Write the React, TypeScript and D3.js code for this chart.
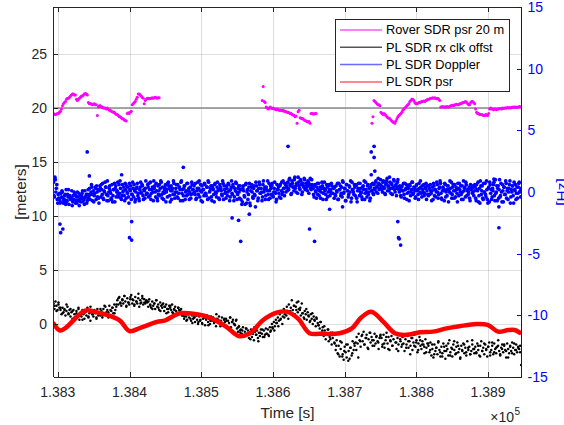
import React from 'react';
import * as d3 from 'd3';

// ---------- axes ----------
const AXIS_T_MIN = 138294;
const AXIS_T_MAX = 138946.5;
const LEFT_MIN = -4.9;
const LEFT_MAX = 29.35;
const RIGHT_MIN = -15;
const RIGHT_MAX = 15;
const X_TICKS = [138300, 138400, 138500, 138600, 138700, 138800, 138900];
const X_TICK_LABELS = ['1.383', '1.384', '1.385', '1.386', '1.387', '1.388', '1.389'];
const LEFT_TICKS = [0, 5, 10, 15, 20, 25];
const RIGHT_TICKS = [-15, -10, -5, 0, 5, 10, 15];
const LEGEND_LABELS = ['Rover SDR psr 20 m', 'PL SDR rx clk offst', 'PL SDR Doppler', 'PL SDR psr'];

// ---------- data ----------
const TIME_START = 138294;
const TIME_END = 138946;

// reference level (left axis, meters)
const REF_LEVEL = 20;

// Rover SDR psr 20 m (left axis) - three segments, sample step in seconds
const ROVER_STEP = 1.39;
const ROVER_SEG1_START = 138294;
const ROVER_SEG1 = [19.5,19.4,19.4,19.45,19.5,19.5,19.6, 19.7,19.9,20.2,20.4, 20.5,20.6,20.8,20.9,20.9,21.0,
  21.1,21.2,21.3,21.3,21.2,21.2, 20.8,20.7,20.8,20.9, 21.0,21.1,21.1,21.2,21.3,21.35,21.3, 21.2,20.5,20.4,
  20.4,20.4,20.3,20.35,20.4,20.3,20.3, 19.3, 20.1,20.2,20.2,20.1,20.1,20.0,20.0,20.0,19.9,20.0,
  19.9,19.8,19.8,19.7,19.65,19.6,19.6,19.5,19.4,19.4,19.3,19.2,19.2,19.1, 19.0,19.0,18.9,18.85,18.8,
  19.5,19.55,19.5,19.6,19.7, 20.3,20.4,20.5,20.6,20.8,21.0,21.3, 21.3,21.2,21.1,21.0,20.9,20.4,
  20.7,20.8,20.9,20.9,20.85,20.9,20.9,20.95,20.9,20.95,21.0,20.95,20.9,20.95,20.95];
const ROVER_SEG2_START = 138585;
const ROVER_SEG2 = [20.7,22.0,20.6,20.5,20.1,20.0,19.9,20.0,20.1,20.0,19.95,20.0,
  19.9,19.9,19.85,19.9,19.85,19.8,19.8,19.8,19.75,19.8, 19.7,19.7,19.65,19.6,19.6,19.55,19.5,19.5,
  19.4,19.35,19.3,19.2,19.25,18.6, 19.65,19.8,19.1,19.05,19.0,19.0, 18.9,18.85,18.8,18.75,18.7,18.75,18.6,
  19.5,19.5,19.45,19.45,19.5,19.5];
const ROVER_SEG3_START = 138738;
const ROVER_SEG3 = [18.6,19.2,20.7,20.6,20.5,20.4,20.3,20.3,20.2,19.6,19.5,19.4,19.5,19.4,
  19.3,19.2,19.1,19.05,19.0,18.9,18.8,18.7,18.65,18.6, 18.8,19.0,19.2,19.3,19.4, 19.5,19.6,19.8,19.9,20.0,
  20.1,20.2,20.3,20.4,20.6, 20.7,20.8,20.8,20.7,20.5, 20.4,20.4,20.45,20.5,20.5,
  20.55,20.6,20.6,20.65,20.6,20.7,20.75,20.8,20.8,20.85, 20.9,20.9,20.95,20.9,20.95,20.9,20.85,20.9,20.8,20.7,
  20.1,20.1,20.15,20.1,20.1,20.1,20.15,20.1,20.1,20.15, 20.2,20.2,20.25,20.2,20.3,20.3,20.35,20.3,20.3,20.4,
  20.4,20.45,20.5,20.5,20.55,20.6,20.5,20.4,20.3,20.3, 20.5,20.6,20.6,20.5,20.4,19.9,19.6,19.5,
  19.5,19.4,19.4,19.4,19.35,19.3,19.3,19.4,19.35,19.3,19.5,19.9, 20.0,19.9,19.9,19.85,19.9,19.9,19.85,19.9,19.9,19.95,
  19.95,19.9,20.0,19.95,20.0,20.0,20.0,20.05,20.0,20.05,20.0,20.05,20.1,20.05,20.1,20.1,20.05,20.1,20.1,20.15,20.1];

// PL SDR rx clk offst (left axis, meters) - evenly sampled over TIME_START..TIME_END (two receiver passes)
const CLK_OFFSET_A = [
  1.9,1.4,2.1,1.7,1.3,1.8,1.5,1.3,0.9,1.5,1.1,1.4,0.8,1.2,1.6,1.0,1.3,0.7,1.1,0.5,1.3,0.9,0.6,1.2,0.8,1.4,0.4,1.0,0.7,1.3,0.9,0.5,1.1,0.8,1.5,0.6,1.0,0.3,1.2,0.9,0.7,1.3,1.0,0.6,1.4,0.8,1.1,
  0.8,1.2,0.6,1.4,1.0,1.6,0.9,1.3,1.1,1.7,0.7,1.2,1.5,1.0,1.8,1.3,1.6,2.2,1.8,2.5,2.0,1.7,2.3,1.9,2.6,2.1,1.6,2.4,2.0,1.8,2.3,2.7,1.9,2.2,1.7,2.5,2.1,1.9,2.4,1.6,2.2,2.0,2.6,1.8,2.3,1.9,2.1,
  2.0,1.6,2.3,1.8,1.5,2.1,1.7,1.9,1.4,2.2,1.6,1.8,1.3,2.0,1.7,1.5,1.9,1.2,1.6,1.8,1.4,1.1,1.7,1.5,1.3,1.8,1.0,1.4,1.6,1.2,0.9,1.5,1.3,1.1,1.4,0.8,0.9,0.5,1.1,0.7,0.4,0.9,0.6,1.0,0.3,0.8,0.5,
  0.6,0.2,0.8,0.4,0.0,0.7,0.3,0.9,0.1,0.5,0.6,-0.1,0.4,0.8,0.2,0.5,0.0,0.7,0.3,0.6,0.1,0.4,-0.2,0.5,0.2,0.7,0.0,0.3,0.6,-0.1,0.4,0.2,0.5,-0.2,0.3,0.1,0.6,-0.3,0.2,0.4,0.0,-0.1,0.3,-0.4,-0.7,-0.2,-0.6,
  -0.5,-0.9,-0.3,-1.1,-0.7,-0.4,-1.0,-0.6,-1.3,-0.8,-0.5,-1.2,-0.9,-1.5,-0.7,-1.0,-0.6,-1.3,-0.8,-1.1,-0.5,-0.9,-1.2,-0.6,-1.0,-0.4,-0.9,-0.5,-1.1,-0.3,-0.6,0.0,-0.4,0.2,-0.2,0.4,0.1,0.6,0.3,0.9,0.5,1.1,0.7,1.4,0.9,1.2,1.6,
  1.2,1.8,1.0,1.5,2.2,1.3,1.7,0.9,1.6,2.0,1.1,1.4,1.3,0.8,1.9,1.0,0.6,1.2,0.9,0.4,1.1,0.7,0.2,0.9,0.5,0.0,0.7,0.3,-0.2,0.5,0.1,-0.1,-0.4,0.2,-0.8,-0.3,-1.1,-0.6,-1.4,-0.9,-0.5,-1.6,-1.2,-0.8,-1.9,-1.3,-1.0,
  -1.8,-2.4,-1.5,-2.7,-2.0,-3.0,-2.3,-1.7,-2.8,-3.3,-2.1,-2.6,-3.1,-1.9,-2.5,-3.2,-2.2,-2.9,-1.6,-2.4,-2.0,-1.7,-1.2,-1.8,-0.9,-1.5,-2.1,-1.1,-1.6,-0.7,-1.9,-1.3,-1.0,-2.2,-1.4,-0.8,-1.7,-1.2,-2.0,-1.5,-0.9,-1.8,-1.1,-1.6,-2.3,-1.3,-1.0,
  -1.3,-1.9,-1.0,-2.2,-1.5,-0.8,-1.8,-1.2,-2.4,-1.6,-1.1,-2.0,-1.4,-0.9,-1.7,-2.3,-1.3,-1.9,-1.0,-1.6,-2.1,-1.2,-1.8,-2.5,-1.4,-1.9,-1.1,-2.2,-1.6,-2.0,-1.3,-2.4,-1.7,-1.0,-2.1,-1.5,-2.6,-1.8,-1.2,-2.0,-2.3,-1.6,-1.9,-2.7,-1.4,-2.2,-1.8,
  -2.0,-2.6,-1.7,-2.9,-2.3,-3.1,-1.9,-2.5,-2.2,-2.8,-1.6,-2.4,-3.0,-2.1,-2.7,-1.8,-2.5,-3.2,-2.0,-2.3,-2.9,-1.5,-2.6,-2.2,-3.0,-1.9,-2.4,-2.8,-2.1,-1.7,-2.6,-2.3,-3.1,-2.0,-2.5,-1.8,-2.7,-2.2,-2.9,-1.6,-2.4,-2.1,-2.8,-2.5,-1.9,-2.3,-2.7,
  -2.1,-2.6,-1.8,-2.4,-2.9,-2.0,-1.6,-2.5,-2.2,-2.8,-1.9,-2.3,-3.0,-2.1,-1.7,-2.6,-2.4,-2.0,-2.8,-1.8,-2.3,-2.7,-2.1,-1.5,-2.5,-2.9,-2.2,-1.9,-2.6,-2.0,-2.4,-3.1,-1.8,-2.3,-2.7,-2.0,-2.5,-1.7,-2.2,-2.8,-2.4,-1.9,-2.6,-2.1,-2.3,-2.0,-3.8,
];
const CLK_OFFSET_B = [
  1.7,1.2,2.0,1.5,1.0,1.3,1.8,0.9,1.4,1.2,0.6,1.0,1.5,0.8,0.4,1.1,1.3,0.7,1.6,0.9,1.2,0.5,1.0,1.4,0.8,1.7,1.1,0.6,1.3,1.5,1.0,1.8,2.4,1.9,2.2,2.6,1.7,2.0,2.5,2.3,1.8,2.1,2.8,1.9,2.4,2.0,2.2,
  2.1,1.7,1.4,1.9,2.2,1.5,1.2,1.8,1.6,1.0,1.4,1.7,1.1,1.3,0.9,1.5,1.2,0.8,0.7,0.3,0.9,0.5,0.1,0.6,0.8,0.2,0.4,0.0,0.7,0.5,-0.1,0.3,0.6,0.2,0.9,0.4,-0.2,0.1,0.5,0.3,-0.3,0.6,0.2,0.0,0.4,-0.3,-0.8,
  -0.6,-1.1,-0.4,-0.9,-1.4,-0.7,-0.3,-1.0,-1.6,-0.8,-0.5,-1.2,-0.9,-1.0,-0.7,-0.3,-0.6,0.1,-0.2,0.4,0.0,0.6,0.8,0.5,1.2,1.0,1.7,1.3,2.1,1.5,1.0,0.5,1.4,0.8,0.3,1.0,0.4,0.6,-0.1,0.2,-0.6,-0.2,-1.0,-0.5,-1.4,-0.8,-1.7,
  -2.0,-2.8,-1.6,-3.0,-2.5,-1.9,-3.4,-2.2,-2.7,-1.8,-2.4,-3.1,-1.6,-1.0,-1.9,-1.3,-2.3,-0.8,-1.5,-2.0,-1.2,-1.7,-1.1,-2.1,-1.8,-1.2,-2.3,-1.5,-2.0,-0.9,-1.7,-2.5,-1.4,-1.9,-1.1,-2.2,-1.6,-2.8,-1.3,-2.0,-1.7,-2.4,-1.5,-1.9,-2.1,-2.6,-1.8,
  -2.4,-1.9,-2.8,-2.2,-1.7,-2.6,-3.0,-2.1,-2.5,-1.8,-2.9,-2.3,-1.6,-2.7,-2.0,-3.2,-2.4,-1.9,-2.6,-2.2,-2.8,-1.5,-2.3,-2.7,-2.0,-3.0,-2.5,-1.8,-2.4,-2.1,-2.9,-1.7,-2.6,-2.2,-2.0,-2.8,-2.3,-1.9,-2.5,-3.1,-2.1,-2.7,-1.8,-2.4,-2.2,-2.6,-2.9,
];

// PL SDR Doppler (right axis, Hz) - evenly sampled over TIME_START..TIME_END (two passes)
const DOPPLER_A = [
  0.8,-0.4,1.0,0.3,-0.6,-0.2,-0.6,-0.9,-0.1,0.1,-0.5,-0.7,-0.3,-1.0,-0.8,-0.2,0.2,-0.4,-0.6,-0.5,-1.1,-0.3,0.0,-0.2,-0.7,-0.9,-0.4,-0.1,-0.6,-0.8,-0.3,0.1,-0.5,-1.0,-0.4,-0.2,-0.7,0.2,-0.3,-0.6,0.0,0.4,-0.2,-0.8,-0.1,0.3,0.5,-0.4,-0.5,0.1,
  0.3,0.6,-0.2,-0.5,0.1,0.8,0.4,-0.7,-0.3,0.0,0.5,-0.1,-0.6,-0.8,0.2,0.7,0.3,-0.4,0.1,-0.2,0.6,0.9,-0.5,-0.3,0.0,0.4,-0.7,0.2,0.5,-0.1,-0.4,0.7,0.1,-0.6,-0.2,0.3,0.6,-0.8,0.0,0.4,-0.3,-0.5,0.2,0.8,-0.1,0.5,-0.6,0.1,0.3,-0.2,
  -0.1,0.4,0.7,-0.3,-0.6,0.2,0.0,0.9,0.5,-0.4,0.1,-0.7,-0.2,0.6,0.3,0.8,-0.5,0.0,-0.1,0.4,-0.8,0.2,0.7,0.5,-0.3,0.1,-0.6,0.3,0.9,-0.2,0.0,0.6,-0.4,-0.5,0.4,0.2,0.8,-0.1,-0.7,0.3,0.5,0.0,-0.3,0.7,0.1,-0.6,0.4,-0.2,0.6,0.2,
  0.5,-0.2,-0.6,0.1,0.8,0.3,-0.4,0.6,0.0,-0.8,0.2,0.7,-0.1,-0.3,0.4,0.9,-0.5,0.1,0.5,-0.7,0.3,-0.2,0.6,0.0,-0.4,0.8,0.2,-0.6,0.4,0.1,-0.3,0.7,0.5,-0.1,-0.5,0.3,0.0,0.6,-0.7,0.2,0.9,-0.2,0.4,-0.4,0.1,0.7,-0.6,0.3,0.0,0.5,
  -0.6,-1.0,0.3,0.1,-0.4,0.6,-0.9,0.2,-0.2,0.7,-1.1,0.4,0.0,-0.5,0.5,-0.3,0.8,0.1,-0.7,0.3,0.6,-0.1,0.0,-0.4,0.9,0.2,-0.6,0.4,0.1,-0.2,0.7,-0.5,0.3,0.5,-0.3,0.0,0.8,-0.1,-0.6,0.2,0.4,-0.4,0.6,0.1,-0.2,0.9,0.3,0.7,0.0,0.5,
  0.8,0.2,1.1,0.5,-0.1,0.7,0.4,1.0,0.3,0.0,0.6,1.2,0.5,0.2,0.9,-0.2,0.7,0.4,1.0,0.3,0.6,0.1,0.8,0.5,1.1,0.2,0.6,0.3,-0.4,0.6,0.0,0.4,-0.2,0.7,0.1,-0.5,0.3,0.5,-0.1,0.8,0.2,-0.6,0.4,0.0,0.6,-0.3,0.2,0.5,-0.1,0.3,
  0.4,-0.3,0.1,0.7,-0.6,0.2,0.5,-0.1,-0.4,0.8,0.0,0.3,-0.7,0.6,0.1,-0.2,0.4,0.9,-0.5,0.2,0.0,0.6,-0.3,0.5,-0.8,0.3,0.1,0.7,-0.1,-0.4,0.4,0.2,-0.6,0.8,0.0,0.5,-0.2,0.3,-0.5,0.6,0.1,-0.1,0.6,0.2,0.9,0.4,-0.1,0.7,0.3,1.0,
  0.5,0.0,0.9,0.3,-0.2,0.7,1.1,0.4,0.1,0.8,-0.1,0.6,0.3,1.0,0.2,0.5,-0.3,0.8,0.4,0.0,0.2,-0.4,0.5,0.1,-0.2,0.7,0.3,-0.6,0.4,0.0,0.6,-0.3,0.2,0.8,-0.1,0.3,-0.5,0.5,0.1,-0.2,0.7,0.0,0.4,-0.4,0.2,0.6,-0.1,0.3,-0.6,0.5,
  -0.3,0.3,0.6,-0.1,0.1,-0.6,0.5,0.2,-0.4,0.8,0.0,-0.2,0.4,0.7,-0.5,0.1,0.3,-0.7,0.6,0.0,-0.3,0.5,0.2,0.9,-0.1,-0.5,0.4,0.1,0.6,-0.4,0.2,-0.8,0.3,0.7,0.0,-0.2,0.5,-0.6,0.1,0.4,0.8,-0.3,0.2,0.0,-0.5,0.6,0.3,-0.1,0.4,0.1,
  0.4,-0.7,0.2,0.8,-0.3,-0.9,0.5,0.1,-0.5,0.7,0.0,-0.2,0.9,-0.6,0.3,-0.8,0.6,0.2,-0.4,0.1,0.8,-0.7,-0.1,0.5,0.3,-0.5,1.0,-0.3,0.0,0.6,-0.8,0.4,-0.2,0.7,0.1,-0.6,0.3,0.9,-0.4,0.0,0.5,-0.9,0.2,0.6,-0.1,-0.5,0.4,0.8,0.1,0.3,
];
const DOPPLER_B = [
  -0.3,1.2,0.0,0.6,-0.9,-0.5,-0.1,-0.8,-0.4,0.0,-0.9,-0.6,-0.2,0.2,-0.7,-0.4,-1.0,-0.3,-0.5,0.1,-0.8,-0.6,-0.2,-0.9,-0.4,0.0,-0.7,-1.1,-0.3,-0.5,-0.1,-0.8,-0.6,0.1,-0.4,-0.9,-0.2,-0.5,0.3,-0.2,0.6,-0.7,0.1,-0.3,0.4,-0.6,0.0,0.2,-0.9,0.5,
  -0.4,0.2,0.7,-0.6,0.0,0.4,-0.2,0.9,-0.7,0.3,0.1,-0.5,0.6,-0.3,0.2,-0.8,0.5,0.0,0.8,-0.4,-0.1,0.3,-0.6,0.6,0.1,-0.3,0.7,-0.5,0.0,0.4,-0.9,0.2,0.5,-0.2,0.8,-0.4,0.1,-0.6,0.3,0.7,-0.1,-0.7,0.4,0.0,0.6,-0.3,0.2,-0.5,0.9,-0.1,
  0.6,-0.4,0.2,0.8,-0.1,0.4,-0.7,0.3,0.0,0.7,-0.5,0.5,0.1,-0.3,0.9,-0.2,0.4,-0.6,0.2,0.6,0.0,-0.4,0.8,0.3,-0.8,0.5,0.1,-0.2,0.7,-0.5,0.3,0.0,0.6,-0.1,0.4,-0.7,0.9,0.2,-0.3,0.5,-0.6,0.1,0.7,-0.2,0.3,0.0,-0.5,0.8,0.2,-0.1,
  0.0,0.7,-0.5,0.3,-0.2,0.9,0.1,-0.7,0.5,0.2,-0.3,0.6,-0.1,0.4,-0.6,0.8,0.0,0.3,-0.4,0.5,0.2,-0.8,0.7,-0.1,0.4,0.1,-0.5,0.6,0.3,-0.2,0.9,-0.6,0.2,0.0,0.5,-0.3,0.7,0.1,-0.4,0.4,-0.1,0.6,-0.7,0.3,0.8,0.0,-0.2,0.5,-0.5,0.2,
  0.2,-0.8,0.5,-0.3,-1.0,0.7,0.0,-0.6,0.4,-0.9,0.1,0.6,-0.4,0.3,-0.2,-1.2,0.5,0.1,-0.5,0.8,-0.1,0.3,-0.7,0.6,0.0,0.4,-0.3,0.2,0.9,-0.6,0.1,0.5,-0.2,0.7,-0.4,0.3,0.0,-0.8,0.6,0.2,-0.1,0.5,-0.5,0.8,0.0,0.3,-0.3,0.6,0.4,0.1,
  0.3,1.0,0.6,-0.2,0.9,0.4,0.1,1.2,0.5,0.7,-0.1,0.8,0.3,1.0,0.6,0.0,0.5,1.1,0.2,0.7,0.4,0.9,-0.1,0.6,0.3,1.0,0.5,-0.2,0.5,0.1,-0.5,0.7,0.2,-0.3,0.4,0.0,0.8,-0.6,0.3,0.1,-0.2,0.6,-0.4,0.5,0.2,0.0,0.7,-0.1,0.4,-0.5,
  -0.2,0.5,0.0,-0.6,0.7,0.2,-0.3,0.4,0.9,-0.1,0.3,-0.7,0.6,0.1,-0.4,0.5,0.0,-0.8,0.8,0.2,-0.2,0.4,0.6,-0.5,0.1,0.7,-0.3,0.3,0.0,-0.6,0.5,0.9,-0.1,0.2,-0.4,0.6,0.0,-0.7,0.4,0.1,0.7,-0.2,0.3,0.8,0.0,0.5,1.1,0.2,0.6,0.4,
  0.2,0.8,0.4,-0.1,0.6,0.9,0.1,0.5,1.2,0.3,0.7,-0.2,0.4,0.9,0.0,0.6,0.3,1.0,0.2,0.5,-0.3,0.4,0.1,0.7,-0.5,0.2,0.6,-0.1,0.3,-0.7,0.5,0.0,0.8,-0.2,0.4,0.1,-0.4,0.6,0.2,-0.6,0.3,0.9,-0.1,0.5,0.0,-0.3,0.4,0.7,0.1,-0.2,
  0.5,-0.2,0.1,-0.7,0.4,0.7,-0.3,0.2,0.0,0.6,-0.5,0.3,0.9,-0.1,-0.6,0.4,0.1,0.7,-0.4,0.2,0.5,-0.8,0.0,0.3,0.8,-0.2,0.6,-0.5,0.1,0.4,-0.1,0.7,-0.3,0.2,0.5,-0.6,0.0,0.9,0.3,-0.4,0.6,0.1,-0.2,0.4,-0.7,0.2,0.5,0.0,-0.3,0.6,
  -0.5,0.6,0.1,-0.8,0.3,0.9,-0.2,0.5,-0.6,0.0,0.7,-0.4,0.2,-0.9,0.4,0.8,-0.1,-0.6,0.3,0.6,-0.3,1.0,0.0,-0.7,0.5,0.2,-0.4,0.7,-0.8,0.1,0.4,-0.2,0.9,-0.5,0.3,0.0,0.6,-0.9,0.2,0.5,-0.3,0.8,0.1,-0.6,0.4,-0.1,0.7,0.0,-0.4,0.2,
];
const DOPPLER_OUTLIER_TIMES = [138341,138344,138389,138475,138621,138303,138307,138304,138403,138400,138403,138543,138552,138567,138555,
  138741,138737,138741,138737,138742,138651,138658,138774,138775,138776,138778,138915,138915,138908,138679,138697];
const DOPPLER_OUTLIER_VALUES = [3.25,1.3,1.4,2.0,3.7,-2.6,-3.0,-3.3,-2.4,-3.7,-3.9,-2.1,-2.3,-1.8,-4.0,
  3.7,3.25,2.8,1.4,1.7,-3.0,-4.0,-2.4,-3.7,-3.8,-4.3,-1.2,-2.9,1.05,-1.4,-1.2];

// PL SDR psr (left axis, meters)
const PSR_TIMES = [138294,138303,138310,138322,138338,138354,138373,138387,138400,138415,138438,138450,138470,138494,138512,
  138535,138552,138568,138586,138605,138619,138635,138651,138665,138693,138710,138723,138737,138754,138770,138786,138805,
  138823,138842,138860,138884,138900,138914,138928,138937,138944];
const PSR_VALUES = [0.05,-0.6,-0.4,0.35,1.25,1.1,0.75,0.3,-0.65,-0.35,0.2,0.35,1.0,0.9,0.6,
  -0.25,-1.1,-0.85,0.35,1.05,1.15,0.5,-0.85,-0.9,-0.85,-0.4,0.6,1.15,0.2,-0.85,-1.0,-0.75,
  -0.7,-0.4,-0.2,0.0,-0.1,-0.7,-0.55,-0.55,-0.8];

// ---------- layout ----------
const W = 564;
const H = 425;
const PL = 53.5;
const PR = 521.5;
const PT = 7;
const PB = 377;
const FONT = "'Liberation Sans', Arial, Helvetica, sans-serif";
const AX = '#262626';
const TICK_LEN = 4.7;

const gridTime = (i: number, n: number) => TIME_START + (i * (TIME_END - TIME_START)) / (n - 1);

export default function App() {
  const x = d3.scaleLinear().domain([AXIS_T_MIN, AXIS_T_MAX]).range([PL, PR]);
  const yL = d3.scaleLinear().domain([LEFT_MIN, LEFT_MAX]).range([PB, PT]);
  const yR = d3.scaleLinear().domain([RIGHT_MIN, RIGHT_MAX]).range([PB, PT]);

  const rover: [number, number][] = [];
  [[ROVER_SEG1_START, ROVER_SEG1], [ROVER_SEG2_START, ROVER_SEG2], [ROVER_SEG3_START, ROVER_SEG3]].forEach(
    ([start, vals]: any) => (vals as number[]).forEach((v, i) => rover.push([start + i * ROVER_STEP, v]))
  );
  const clk = CLK_OFFSET_A.map((v, i) => [gridTime(i, CLK_OFFSET_A.length), v]).concat(
    CLK_OFFSET_B.map((v, i) => [gridTime(i + 0.5, CLK_OFFSET_B.length), v])
  );
  const dop = DOPPLER_A.map((v, i) => [gridTime(i, DOPPLER_A.length), v])
    .concat(DOPPLER_B.map((v, i) => [gridTime(i + 0.5, DOPPLER_B.length), v]))
    .concat(DOPPLER_OUTLIER_TIMES.map((t, i) => [t, DOPPLER_OUTLIER_VALUES[i]]));
  const psr = PSR_TIMES.map((t, i) => [t, PSR_VALUES[i]] as [number, number]);
  const psrPath = d3
    .line<[number, number]>()
    .x((d) => x(d[0]))
    .y((d) => yL(d[1]))
    .curve(d3.curveCatmullRom.alpha(0.5))(psr) as string;

  const legendRows = [
    { label: LEGEND_LABELS[0], color: '#ff55ff' },
    { label: LEGEND_LABELS[1], color: '#555555' },
    { label: LEGEND_LABELS[2], color: '#6a6aff' },
    { label: LEGEND_LABELS[3], color: '#ff6060' },
  ];
  const LX = 335.5, LY = 19.5, LW = 174, LH = 71.5;
  const rowY = (i: number) => 30 + i * 17.3;

  return (
    <svg
      width={W}
      height={H}
      style={{ position: 'absolute', left: 0, top: 0, background: '#fff' }}
      fontFamily={FONT}
    >
      <defs>
        <clipPath id="plotclip">
          <rect x={PL} y={PT} width={PR - PL} height={PB - PT} />
        </clipPath>
      </defs>
      <rect x={0} y={0} width={W} height={H} fill="#fff" />
      {/* grid */}
      <g stroke={AX} strokeOpacity={0.15} strokeWidth={1} shapeRendering="crispEdges">
        {X_TICKS.map((t) => (
          <line key={'gx' + t} x1={Math.round(x(t)) + 0.5} x2={Math.round(x(t)) + 0.5} y1={PT} y2={PB} />
        ))}
        {LEFT_TICKS.map((v) => (
          <line key={'gy' + v} x1={PL} x2={PR} y1={Math.round(yL(v)) + 0.5} y2={Math.round(yL(v)) + 0.5} />
        ))}
      </g>

      <g clipPath="url(#plotclip)">
        <line x1={PL} x2={PR} y1={yL(REF_LEVEL)} y2={yL(REF_LEVEL)} stroke="#8a8a8a" strokeWidth={1.6} />
        {rover.map((d, i) => (
          <circle key={'r' + i} cx={x(d[0])} cy={yL(d[1])} r={1.5} fill="#ff00ff" />
        ))}
        {clk.map((d, i) => (
          <circle key={'c' + i} cx={x(d[0])} cy={yL(d[1])} r={1.25} fill="#000" />
        ))}
        <path d={psrPath} fill="none" stroke="#ff0000" strokeWidth={4.5} strokeLinejoin="round" strokeLinecap="round" />
        {dop.map((d, i) => (
          <circle key={'d' + i} cx={x(d[0])} cy={yR(d[1])} r={1.85} fill="#0000ff" />
        ))}
      </g>

      {/* axes box */}
      <g shapeRendering="crispEdges" strokeWidth={1}>
        <line x1={PL} x2={PR} y1={PB} y2={PB} stroke={AX} />
        <line x1={PL} x2={PR} y1={PT} y2={PT} stroke={AX} />
        <line x1={PL} x2={PL} y1={PT} y2={PB} stroke={AX} />
        <line x1={PR} x2={PR} y1={PT} y2={PB} stroke="#0000ff" />
        {X_TICKS.map((t) => (
          <g key={'xt' + t}>
            <line x1={Math.round(x(t)) + 0.5} x2={Math.round(x(t)) + 0.5} y1={PB} y2={PB - TICK_LEN} stroke={AX} />
            <line x1={Math.round(x(t)) + 0.5} x2={Math.round(x(t)) + 0.5} y1={PT} y2={PT + TICK_LEN} stroke={AX} />
          </g>
        ))}
        {LEFT_TICKS.map((v) => (
          <line key={'lt' + v} x1={PL} x2={PL + TICK_LEN} y1={Math.round(yL(v)) + 0.5} y2={Math.round(yL(v)) + 0.5} stroke={AX} />
        ))}
        {RIGHT_TICKS.map((v) => (
          <line key={'rt' + v} x1={PR} x2={PR - TICK_LEN} y1={Math.round(yR(v)) + 0.5} y2={Math.round(yR(v)) + 0.5} stroke="#0000ff" />
        ))}
      </g>

      {/* tick labels */}
      <g fontSize={14} fill={AX}>
        {X_TICKS.map((t, i) => (
          <text key={'xl' + t} x={x(t)} y={396.5} textAnchor="middle">
            {X_TICK_LABELS[i]}
          </text>
        ))}
        {LEFT_TICKS.map((v) => (
          <text key={'ll' + v} x={47} y={yL(v)} dy="0.35em" textAnchor="end">
            {v}
          </text>
        ))}
      </g>
      <g fontSize={14} fill="#0000ff">
        {RIGHT_TICKS.map((v) => (
          <text key={'rl' + v} x={527.5} y={yR(v)} dy="0.35em" textAnchor="start">
            {v}
          </text>
        ))}
      </g>

      {/* axis labels */}
      <text x={(PL + PR) / 2} y={417.5} fontSize={15.4} textAnchor="middle" fill={AX}>
        Time [s]
      </text>
      <text transform={`translate(25.5,${(PT + PB) / 2}) rotate(-90)`} fontSize={15.4} textAnchor="middle" fill={AX}>
        [meters]
      </text>
      <text transform={`translate(567,${(PT + PB) / 2}) rotate(-90)`} fontSize={15.4} textAnchor="middle" fill="#0000ff">
        [Hz]
      </text>
      <text x={514} y={421.5} fontSize={14} textAnchor="end" fill={AX}>
        ×10
      </text>
      <text x={514.5} y={415} fontSize={10} textAnchor="start" fill={AX}>
        5
      </text>

      {/* legend */}
      <rect x={LX} y={LY} width={LW} height={LH} fill="#fff" stroke={AX} strokeWidth={1} shapeRendering="crispEdges" />
      {legendRows.map((r, i) => (
        <g key={'lg' + i}>
          <line x1={340} x2={382} y1={rowY(i)} y2={rowY(i)} stroke={r.color} strokeWidth={1.5} />
          <text x={386} y={rowY(i)} dy="0.35em" fontSize={12.8} fill="#000">
            {r.label}
          </text>
        </g>
      ))}
    </svg>
  );
}
